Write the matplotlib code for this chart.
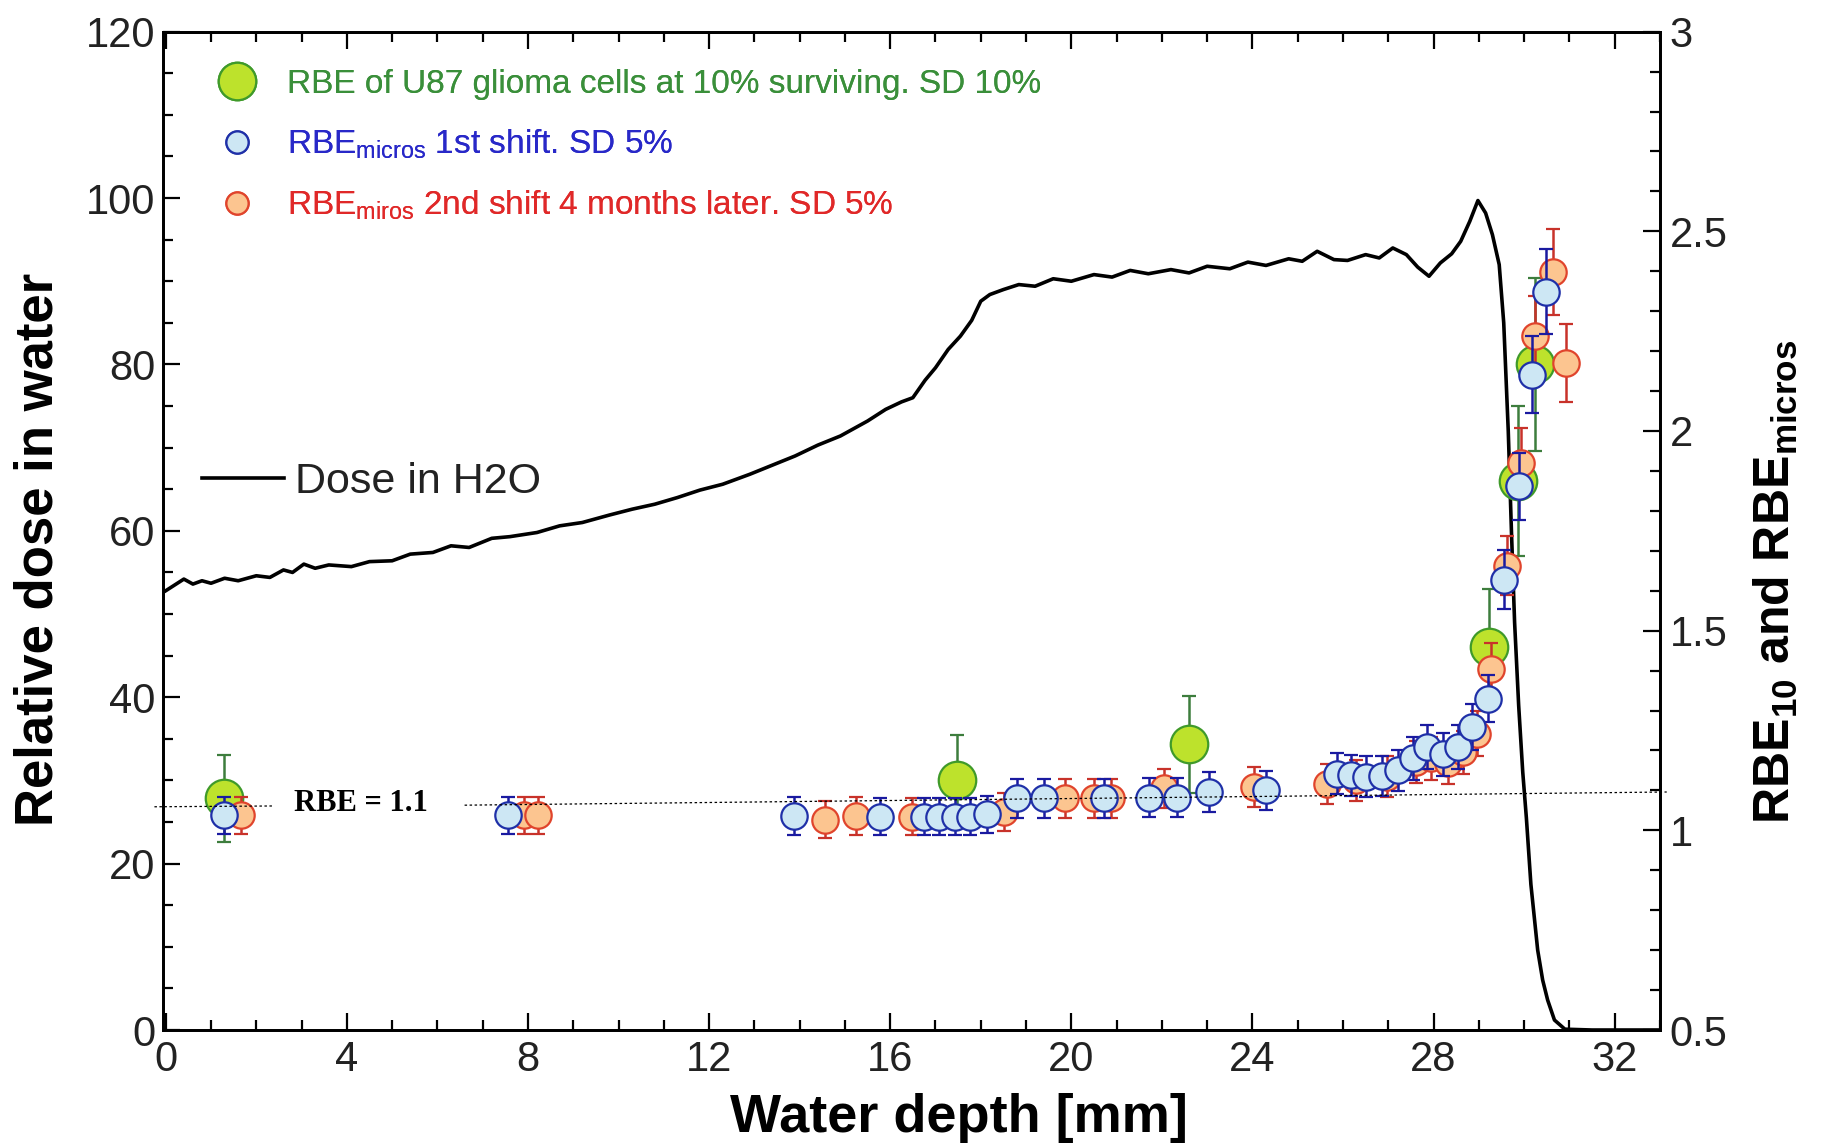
import numpy as np
import matplotlib
matplotlib.use("Agg")
import matplotlib.pyplot as plt
from matplotlib.ticker import MultipleLocator, FormatStrFormatter

plt.rcParams["font.family"] = ["Liberation Sans", "DejaVu Sans"]
plt.rcParams["mathtext.fontset"] = "custom"
plt.rcParams["mathtext.rm"] = "Liberation Sans"
plt.rcParams["mathtext.bf"] = "Liberation Sans:bold"

# ---------------------------------------------------------------
# Depth-dose curve (relative dose, left axis)
# ---------------------------------------------------------------
depth = [0.0, 0.2, 0.4, 0.6, 0.8, 1.0, 1.3, 1.6, 2.0, 2.3, 2.6, 2.8, 3.05, 3.3,
         3.6, 4.1, 4.5, 5.0, 5.4, 5.9, 6.3, 6.7, 7.2, 7.6, 8.2, 8.7, 9.2, 9.8,
         10.3, 10.8, 11.3, 11.8, 12.3, 12.9, 13.4, 13.9, 14.4, 14.9, 15.5, 15.9,
         16.25, 16.5, 16.77, 17.0, 17.28, 17.55, 17.8, 18.0, 18.2, 18.5, 18.84,
         19.2, 19.6, 20.0, 20.5, 20.9, 21.3, 21.7, 22.2, 22.6, 23.0, 23.5, 23.9,
         24.3, 24.8, 25.1, 25.43, 25.8, 26.1, 26.5, 26.8, 27.1, 27.4, 27.65,
         27.9, 28.15, 28.4, 28.6, 28.8, 28.98, 29.15, 29.3, 29.45, 29.55, 29.65,
         29.72, 29.79, 29.88, 29.97, 30.05, 30.15, 30.3, 30.41, 30.52, 30.67,
         30.9, 31.5, 32.5, 33.0]
dose = [52.8, 53.5, 54.2, 53.6, 54.0, 53.7, 54.3, 54.0, 54.6, 54.4, 55.3, 55.0,
        56.0, 55.5, 55.9, 55.7, 56.3, 56.4, 57.2, 57.4, 58.2, 58.0, 59.1, 59.3,
        59.8, 60.6, 61.0, 61.9, 62.6, 63.2, 64.0, 64.9, 65.6, 66.8, 67.9, 69.0,
        70.3, 71.4, 73.2, 74.6, 75.5, 76.0, 78.1, 79.6, 81.8, 83.4, 85.3, 87.6,
        88.4, 89.0, 89.6, 89.4, 90.3, 90.0, 90.8, 90.5, 91.3, 90.9, 91.4, 91.0,
        91.8, 91.5, 92.3, 91.9, 92.7, 92.4, 93.6, 92.6, 92.5, 93.2, 92.8, 94.0,
        93.2, 91.7, 90.6, 92.2, 93.3, 94.8, 97.2, 99.7, 98.2, 95.6, 92.0, 85.0,
        72.0, 60.0, 49.0, 39.0, 31.0, 25.5, 17.5, 9.6, 6.0, 3.6, 1.2, 0.1, 0.0,
        0.0, 0.0]

# ---------------------------------------------------------------
# RBE points (right axis)
# ---------------------------------------------------------------
u87_depth = [1.28, 17.48, 22.60, 29.23, 29.86, 30.25]
u87_rbe = [1.080, 1.125, 1.215, 1.459, 1.874, 2.167]

shift1_depth = [1.29, 7.56, 13.87, 15.78, 16.74, 17.07, 17.44, 17.77, 18.13,
                18.80, 19.39, 20.72, 21.71, 22.34, 23.04, 24.29, 25.86, 26.17,
                26.51, 26.87, 27.21, 27.54, 27.86, 28.20, 28.53, 28.86, 29.20,
                29.55, 29.88, 30.17, 30.48]
shift1_rbe = [1.038, 1.038, 1.036, 1.034, 1.034, 1.034, 1.034, 1.034, 1.040,
              1.080, 1.080, 1.080, 1.082, 1.082, 1.096, 1.100, 1.142, 1.138,
              1.134, 1.136, 1.150, 1.180, 1.209, 1.190, 1.209, 1.259, 1.330,
              1.628, 1.862, 2.141, 2.349]

shift2_depth = [1.67, 7.92, 8.23, 14.57, 15.24, 16.48, 18.51, 19.87, 20.50,
                20.87, 22.04, 24.04, 25.64, 26.28, 26.98, 27.61, 27.94, 28.31,
                28.64, 28.97, 29.27, 29.62, 29.94, 30.25, 30.63, 30.92]
shift2_rbe = [1.038, 1.038, 1.038, 1.027, 1.036, 1.034, 1.046, 1.080, 1.080,
              1.080, 1.105, 1.109, 1.115, 1.125, 1.134, 1.171, 1.180, 1.169,
              1.196, 1.242, 1.405, 1.663, 1.921, 2.237, 2.399, 2.170]

SD_U87 = 0.10
SD_MICROS = 0.045

# hand drawn RBE = 1.1 reference line (slightly tilted in the original)
ref_depth = [-0.25, 2.35, 6.6, 33.15]
ref_rbe = [1.059, 1.061, 1.063, 1.096]

fig = plt.figure(figsize=(18.35, 11.47), dpi=100)
ax = fig.add_axes([0.0886, 0.102, 0.816, 0.8704])
ax2 = ax.twinx()

# dose curve
dose_line, = ax.plot(depth, dose, color="black", lw=2.6, zorder=2)
ax.set_xlim(-0.07, 33.0)
ax.set_ylim(0, 120)

# RBE data
g = ax2.errorbar(u87_depth, u87_rbe, yerr=np.array(u87_rbe) * SD_U87,
                 fmt="o", ms=27, mfc="#bde22c", mec="#3f9a2a", mew=1.6,
                 ecolor="#3d7d3d", elinewidth=1.8, capsize=5, capthick=1.8,
                 zorder=3)
r = ax2.errorbar(shift2_depth, shift2_rbe, yerr=np.array(shift2_rbe) * SD_MICROS,
                 fmt="o", ms=19, mfc="#fcc590", mec="#e0442c", mew=1.6,
                 ecolor="#c8322a", elinewidth=1.8, capsize=5, capthick=1.8,
                 zorder=4)
b = ax2.errorbar(shift1_depth, shift1_rbe, yerr=np.array(shift1_rbe) * SD_MICROS,
                 fmt="o", ms=19, mfc="#cde7f4", mec="#1f30a8", mew=1.6,
                 ecolor="#1a1aa0", elinewidth=1.8, capsize=5, capthick=1.8,
                 zorder=5)

ax2.plot(ref_depth[:2], ref_rbe[:2], color="black", lw=0.9, ls=(0, (2, 2)),
         zorder=6, clip_on=False)
ax2.plot(ref_depth[2:], ref_rbe[2:], color="black", lw=0.9, ls=(0, (2, 2)),
         zorder=6, clip_on=False)
ax2.text(4.3, 1.066, "RBE = 1.1", family="Liberation Serif", weight="bold",
         fontsize=22, ha="center", va="center", zorder=7)
ax2.set_ylim(0.5, 3.0)

# ticks
ax.xaxis.set_major_locator(MultipleLocator(4))
ax.xaxis.set_minor_locator(MultipleLocator(1))
ax.yaxis.set_major_locator(MultipleLocator(20))
ax.yaxis.set_minor_locator(MultipleLocator(5))
ax2.yaxis.set_major_locator(MultipleLocator(0.5))
ax2.yaxis.set_minor_locator(MultipleLocator(0.1))
ax2.yaxis.set_major_formatter(FormatStrFormatter("%g"))

ax.tick_params(which="both", direction="in", top=True, right=False, width=1.6)
ax.tick_params(which="major", length=12)
ax.tick_params(which="minor", length=7)
ax.tick_params(axis="y", labelsize=30, pad=5)
ax.tick_params(axis="x", labelsize=30, pad=7)
ax2.tick_params(which="both", direction="in", width=1.6)
ax2.tick_params(which="major", length=12, labelsize=30, pad=7)
ax2.tick_params(which="minor", length=7)
for a in (ax, ax2):
    for s in a.spines.values():
        s.set_linewidth(2)
for lab in ax.get_xticklabels() + ax.get_yticklabels() + ax2.get_yticklabels():
    lab.set_color("#222222")

# labels
ax.set_xlabel("Water depth [mm]", fontsize=39, weight="bold")
ax.xaxis.set_label_coords(0.532, -0.063)
fig.text(0.0211, 0.521, "Relative dose in water", rotation=90, fontsize=38,
         weight="bold", ha="center", va="center")
fig.text(0.968, 0.493, r"RBE$_{\mathregular{10}}$ and RBE$_{\mathregular{micros}}$",
         rotation=90, fontsize=36, weight="bold", ha="center", va="center")

# legends
leg1 = ax2.legend([g[0], b[0], r[0]],
                  ["RBE of U87 glioma cells at 10% surviving. SD 10%",
                   r"RBE$_{\mathregular{micros}}$ 1st shift. SD 5%",
                   r"RBE$_{\mathregular{miros}}$ 2nd shift 4 months later. SD 5%"],
                  loc="upper left", bbox_to_anchor=(0.0372, 0.9625), frameon=False,
                  fontsize=24, handlelength=1.15, handletextpad=0.9,
                  labelspacing=0.82, borderpad=0, borderaxespad=0,
                  labelcolor=["#3a8f3a", "#2828c8", "#e02828"])
for h in leg1.legend_handles[1:]:
    h.set_markersize(16)
ax2.add_artist(leg1)

ax.legend([dose_line], ["Dose in H2O"], loc="center left",
          bbox_to_anchor=(0.0266, 0.549), frameon=False, fontsize=31,
          handlelength=1.9, handletextpad=0.25, borderpad=0, borderaxespad=0,
          labelcolor="#222222")

fig.savefig("out.png", dpi=100)
